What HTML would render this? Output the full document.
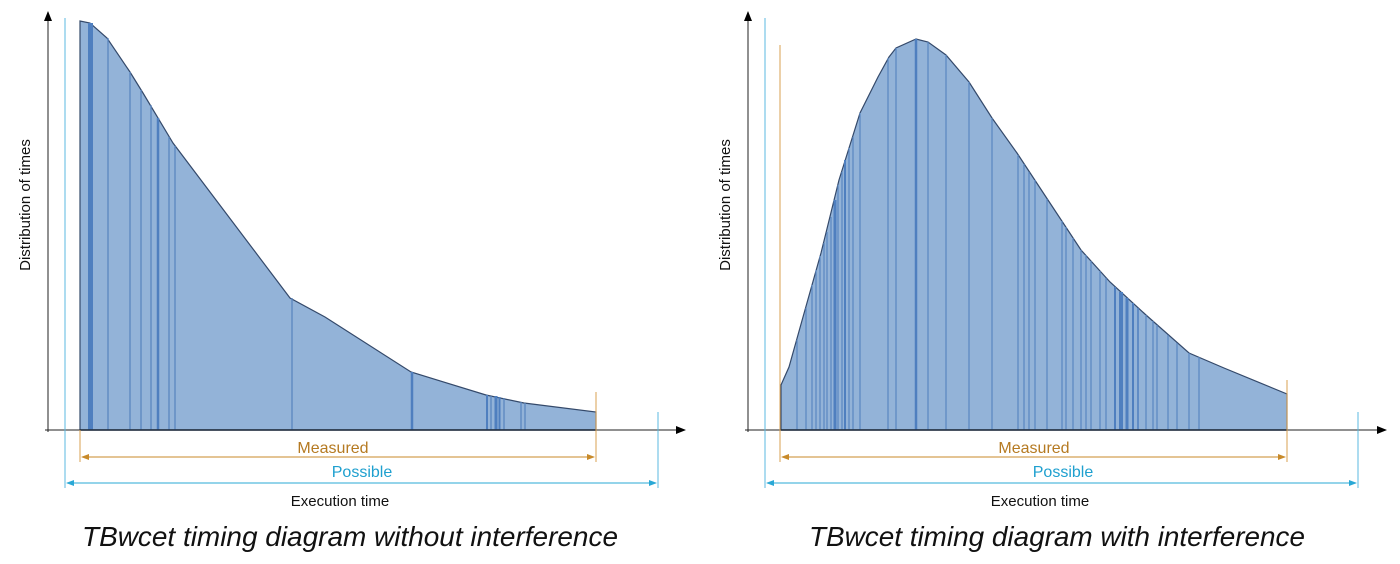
<!DOCTYPE html>
<html><head><meta charset="utf-8"><style>
html,body{margin:0;padding:0;background:#fff;width:1400px;height:564px;overflow:hidden}
svg{display:block}
text{font-family:"Liberation Sans",sans-serif}
</style></head><body>
<svg width="1400" height="564" viewBox="0 0 1400 564" xmlns="http://www.w3.org/2000/svg">
<defs>
<marker id="ak" markerWidth="10" markerHeight="8" refX="9" refY="4" orient="auto" markerUnits="userSpaceOnUse"><path d="M0,0 L10,4 L0,8 z" fill="#000"/></marker>
<marker id="ao" markerWidth="8" markerHeight="6" refX="7" refY="3" orient="auto-start-reverse" markerUnits="userSpaceOnUse"><path d="M0,0 L8,3 L0,6 z" fill="#c88a2a"/></marker>
<marker id="ac" markerWidth="8" markerHeight="6" refX="7" refY="3" orient="auto-start-reverse" markerUnits="userSpaceOnUse"><path d="M0,0 L8,3 L0,6 z" fill="#29a8d6"/></marker>
</defs>

<!-- LEFT CHART -->
<path d="M80,430 L80,21 L90,23 L107,38 L130,72 L143,93 L173,143 L290,298 L325,317 L411,372 L486,395 L524,403 L596,412 L596,430 Z" fill="#93b3d8" stroke="#34496a" stroke-width="1.2"/>
<g stroke="#5a86c0" stroke-width="1.3">
<line x1="108" y1="38" x2="108" y2="430"/><line x1="130" y1="72" x2="130" y2="430"/>
<line x1="141" y1="90" x2="141" y2="430"/><line x1="151" y1="105" x2="151" y2="430"/>
<line x1="169" y1="137" x2="169" y2="430"/><line x1="175" y1="146" x2="175" y2="430"/>
<line x1="292" y1="298" x2="292" y2="430"/><line x1="491" y1="396" x2="491" y2="430"/>
<line x1="504" y1="398" x2="504" y2="430"/><line x1="521" y1="402" x2="521" y2="430"/><line x1="525" y1="403" x2="525" y2="430"/>
</g>
<g stroke="#4f7fbf">
<line x1="90.5" y1="23" x2="90.5" y2="430" stroke-width="5"/>
<line x1="158" y1="118" x2="158" y2="430" stroke-width="2.5"/>
<line x1="412" y1="372" x2="412" y2="430" stroke-width="2.5"/>
<line x1="487" y1="395" x2="487" y2="430" stroke-width="2"/>
<line x1="496" y1="396" x2="496" y2="430" stroke-width="3"/>
<line x1="499.5" y1="397" x2="499.5" y2="430" stroke-width="2"/>
</g>
<line x1="48" y1="432" x2="48" y2="12" stroke="#222" stroke-width="1" marker-end="url(#ak)"/>
<line x1="45" y1="430" x2="685" y2="430" stroke="#222" stroke-width="1" marker-end="url(#ak)"/>
<line x1="80" y1="430" x2="596" y2="430" stroke="#1f2a3a" stroke-width="1.5"/>
<line x1="65" y1="18" x2="65" y2="488" stroke="#5bb9e0" stroke-width="1"/>
<line x1="658" y1="412" x2="658" y2="488" stroke="#5bb9e0" stroke-width="1"/>
<line x1="596" y1="392" x2="596" y2="462" stroke="#d9a050" stroke-width="1"/>
<line x1="80" y1="430" x2="80" y2="462" stroke="#d9a050" stroke-width="1"/>
<line x1="82" y1="457" x2="594" y2="457" stroke="#c88a2a" stroke-width="1" marker-start="url(#ao)" marker-end="url(#ao)"/>
<line x1="67" y1="483" x2="656" y2="483" stroke="#29a8d6" stroke-width="1" marker-start="url(#ac)" marker-end="url(#ac)"/>
<text x="333" y="453" font-size="16" fill="#b57a22" text-anchor="middle">Measured</text>
<text x="362" y="477" font-size="16" fill="#1fa0cf" text-anchor="middle">Possible</text>
<text x="340" y="506" font-size="15" fill="#111" text-anchor="middle">Execution time</text>
<text transform="translate(30,205) rotate(-90)" font-size="15" fill="#111" text-anchor="middle">Distribution of times</text>
<text x="350" y="546" font-size="28" font-style="italic" fill="#111" text-anchor="middle" textLength="536" lengthAdjust="spacingAndGlyphs">TBwcet timing diagram without interference</text>

<!-- RIGHT CHART -->
<path d="M781,430 L781,385 L789,367 L803,317 L821,253 L839,180 L860,113 L878,77 L889,57 L896,48 L916,39 L928,42 L946,55 L969,82 L992,118 L1017,153 L1046,197 L1081,250 L1110,282 L1146,315 L1189,353 L1224,368 L1287,394 L1287,430 Z" fill="#93b3d8" stroke="#34496a" stroke-width="1.2"/>
<g stroke="#5a86c0" stroke-width="1.2">
<line x1="797" y1="340" x2="797" y2="430"/><line x1="806" y1="308" x2="806" y2="430"/>
<line x1="812" y1="285" x2="812" y2="430"/><line x1="816" y1="270" x2="816" y2="430"/>
<line x1="820" y1="256" x2="820" y2="430"/><line x1="824" y1="243" x2="824" y2="430"/>
<line x1="827" y1="232" x2="827" y2="430"/><line x1="831" y1="217" x2="831" y2="430"/>
<line x1="838" y1="185" x2="838" y2="430"/><line x1="842" y1="172" x2="842" y2="430"/>
<line x1="849" y1="148" x2="849" y2="430"/><line x1="853" y1="137" x2="853" y2="430"/>
<line x1="860" y1="113" x2="860" y2="430"/><line x1="888" y1="58" x2="888" y2="430"/>
<line x1="896" y1="48" x2="896" y2="430"/><line x1="928" y1="42" x2="928" y2="430"/>
<line x1="946" y1="55" x2="946" y2="430"/><line x1="969" y1="82" x2="969" y2="430"/>
<line x1="992" y1="118" x2="992" y2="430"/><line x1="1018" y1="155" x2="1018" y2="430"/>
<line x1="1024" y1="164" x2="1024" y2="430"/><line x1="1029" y1="172" x2="1029" y2="430"/>
<line x1="1035" y1="180" x2="1035" y2="430"/><line x1="1047" y1="199" x2="1047" y2="430"/>
<line x1="1062" y1="221" x2="1062" y2="430"/><line x1="1066" y1="227" x2="1066" y2="430"/>
<line x1="1073" y1="238" x2="1073" y2="430"/><line x1="1081" y1="250" x2="1081" y2="430"/>
<line x1="1086" y1="255" x2="1086" y2="430"/><line x1="1091" y1="261" x2="1091" y2="430"/>
<line x1="1100" y1="271" x2="1100" y2="430"/><line x1="1106" y1="278" x2="1106" y2="430"/>
<line x1="1146" y1="315" x2="1146" y2="430"/><line x1="1153" y1="321" x2="1153" y2="430"/>
<line x1="1157" y1="325" x2="1157" y2="430"/><line x1="1168" y1="335" x2="1168" y2="430"/>
<line x1="1177" y1="343" x2="1177" y2="430"/><line x1="1189" y1="353" x2="1189" y2="430"/>
<line x1="1199" y1="357" x2="1199" y2="430"/>
</g>
<g stroke="#4f7fbf">
<line x1="835" y1="200" x2="835" y2="430" stroke-width="3"/>
<line x1="845" y1="160" x2="845" y2="430" stroke-width="2"/>
<line x1="916" y1="39" x2="916" y2="430" stroke-width="2.5"/>
<line x1="1115" y1="287" x2="1115" y2="430" stroke-width="2"/>
<line x1="1121" y1="292" x2="1121" y2="430" stroke-width="4"/>
<line x1="1127" y1="298" x2="1127" y2="430" stroke-width="3"/>
<line x1="1133" y1="303" x2="1133" y2="430" stroke-width="2"/>
<line x1="1138" y1="308" x2="1138" y2="430" stroke-width="1.5"/>
</g>
<line x1="748" y1="432" x2="748" y2="12" stroke="#222" stroke-width="1" marker-end="url(#ak)"/>
<line x1="745" y1="430" x2="1386" y2="430" stroke="#222" stroke-width="1" marker-end="url(#ak)"/>
<line x1="781" y1="430" x2="1287" y2="430" stroke="#1f2a3a" stroke-width="1.5"/>
<line x1="765" y1="18" x2="765" y2="488" stroke="#5bb9e0" stroke-width="1"/>
<line x1="1358" y1="412" x2="1358" y2="488" stroke="#5bb9e0" stroke-width="1"/>
<line x1="780" y1="45" x2="780" y2="462" stroke="#d9a050" stroke-width="1"/>
<line x1="1287" y1="380" x2="1287" y2="462" stroke="#d9a050" stroke-width="1"/>
<line x1="782" y1="457" x2="1285" y2="457" stroke="#c88a2a" stroke-width="1" marker-start="url(#ao)" marker-end="url(#ao)"/>
<line x1="767" y1="483" x2="1356" y2="483" stroke="#29a8d6" stroke-width="1" marker-start="url(#ac)" marker-end="url(#ac)"/>
<text x="1034" y="453" font-size="16" fill="#b57a22" text-anchor="middle">Measured</text>
<text x="1063" y="477" font-size="16" fill="#1fa0cf" text-anchor="middle">Possible</text>
<text x="1040" y="506" font-size="15" fill="#111" text-anchor="middle">Execution time</text>
<text transform="translate(730,205) rotate(-90)" font-size="15" fill="#111" text-anchor="middle">Distribution of times</text>
<text x="1057" y="546" font-size="28" font-style="italic" fill="#111" text-anchor="middle" textLength="496" lengthAdjust="spacingAndGlyphs">TBwcet timing diagram with interference</text>
</svg>
</body></html>
